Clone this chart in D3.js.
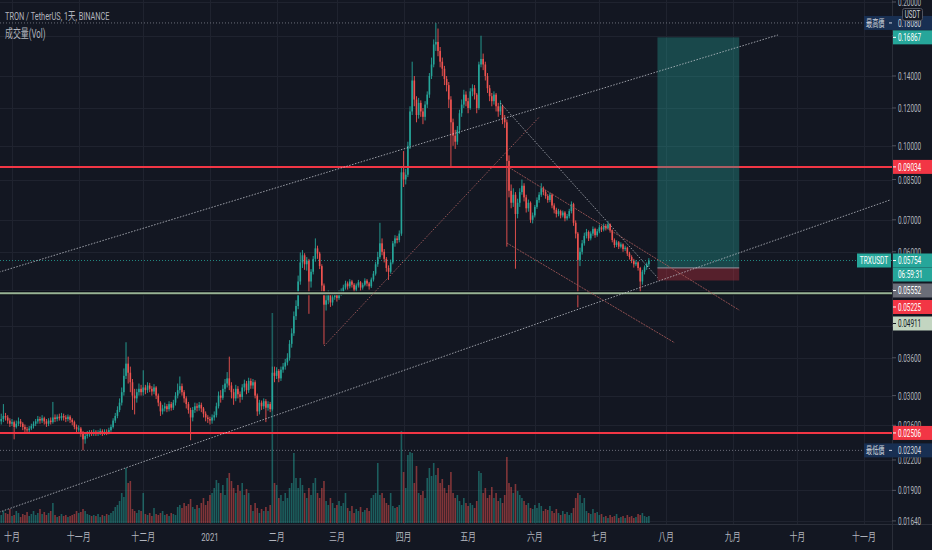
<!DOCTYPE html>
<html>
<head>
<meta charset="utf-8">
<script src="https://cdn.jsdelivr.net/npm/d3@7"></script>
<style>
  html, body { margin: 0; padding: 0; background: #131722; }
  svg { display: block; }
</style>
</head>
<body>
<div id="chart"></div>
<script>
// daily candles, first one is 2020-09-26 (Binance TRXUSDT, 1D)
const firstDay = "2020-09-26";
const firstOpen = 0.0265;

const closes = [
  .0268,.0272,.0270,.0266,.0262,.0264,.0258,.0262,.0265,.0262,
  .0258,.0255,.0254,.0256,.0259,.0262,.0265,.0268,.0266,.0269,
  .0265,.0262,.0266,.0264,.0270,.0268,.0271,.0269,.0272,.0270,
  .0268,.0271,.0267,.0264,.0258,.0255,.0256,.0250,.0243,.0247,
  .0249,.0251,.0250,.0252,.0250,.0251,.0253,.0250,.0252,.0251,
  .0254,.0258,.0266,.0272,.0280,.0290,.0305,.0330,.0350,.0335,
  .0320,.0300,.0296,.0305,.0310,.0305,.0312,.0308,.0315,.0310,
  .0306,.0312,.0300,.0290,.0278,.0282,.0285,.0281,.0288,.0283,
  .0290,.0300,.0308,.0314,.0305,.0296,.0288,.0280,.0270,.0280,
  .0285,.0283,.0287,.0282,.0275,.0270,.0268,.0266,.0270,.0273,
  .0285,.0300,.0297,.0310,.0318,.0326,.0315,.0305,.0296,.0310,
  .0302,.0298,.0312,.0318,.0308,.0322,.0315,.0320,.0300,.0278,
  .0290,.0285,.0292,.0283,.0288,.0281,.0335,.0330,.0338,.0326,
  .0340,.0345,.0352,.0360,.0385,.0405,.0440,.0462,.0520,.0570,
  .0590,.0565,.0575,.0520,.0545,.0580,.0610,.0595,.0560,.0510,
  .0465,.0475,.0490,.0470,.0482,.0488,.0480,.0492,.0495,.0505,
  .0515,.0508,.0520,.0512,.0500,.0510,.0518,.0505,.0512,.0522,
  .0515,.0508,.0525,.0540,.0565,.0585,.0625,.0600,.0580,.0555,
  .0545,.0570,.0625,.0640,.0635,.0655,.0880,.0850,.0870,.1000,
  .1180,.1370,.1250,.1160,.1230,.1180,.1150,.1220,.1280,.1400,
  .1480,.1630,.1650,.1580,.1500,.1450,.1380,.1340,.1250,.1120,
  .1050,.1020,.1080,.1170,.1220,.1280,.1240,.1200,.1300,.1320,
  .1280,.1200,.1480,.1520,.1480,.1400,.1320,.1270,.1240,.1280,
  .1210,.1180,.1210,.1140,.1120,.0930,.0805,.0760,.0790,.0720,
  .0760,.0800,.0825,.0780,.0740,.0760,.0700,.0715,.0745,.0770,
  .0790,.0815,.0800,.0785,.0770,.0790,.0750,.0735,.0720,.0730,
  .0715,.0725,.0705,.0712,.0730,.0755,.0690,.0655,.0577,.0600,
  .0625,.0648,.0660,.0640,.0655,.0670,.0650,.0662,.0675,.0668,
  .0680,.0672,.0685,.0665,.0635,.0620,.0628,.0615,.0622,.0608,
  .0612,.0595,.0585,.0575,.0565,.0570,.0555,.0520,.0545,.0557,
  .0565,.05754
];

const highs = [
  .0275,.0288,.0276,.0273,.0269,.0268,.0266,.0266,.0270,.0268,
  .0264,.0261,.0258,.0259,.0262,.0265,.0268,.0272,.0271,.0273,
  .0271,.0268,.0269,.0270,.0291,.0274,.0274,.0275,.0276,.0275,
  .0273,.0274,.0273,.0269,.0266,.0261,.0260,.0258,.0253,.0251,
  .0253,.0254,.0254,.0255,.0254,.0254,.0256,.0255,.0255,.0255,
  .0257,.0261,.0269,.0276,.0285,.0296,.0312,.0342,.0388,.0362,
  .0345,.0325,.0310,.0310,.0318,.0316,.0339,.0316,.0320,.0319,
  .0314,.0317,.0314,.0303,.0292,.0287,.0290,.0288,.0292,.0291,
  .0294,.0305,.0318,.0329,.0318,.0308,.0299,.0291,.0283,.0284,
  .0290,.0289,.0291,.0290,.0284,.0278,.0273,.0271,.0274,.0278,
  .0290,.0306,.0308,.0316,.0325,.0336,.0362,.0320,.0310,.0316,
  .0314,.0306,.0317,.0324,.0322,.0327,.0326,.0325,.0323,.0303,
  .0294,.0293,.0296,.0295,.0292,.0291,.0345,.0345,.0344,.0341,
  .0345,.0351,.0358,.0368,.0392,.0415,.0450,.0475,.0535,.0598,
  .0605,.0596,.0585,.0580,.0552,.0588,.0640,.0618,.0600,.0565,
  .0515,.0488,.0498,.0494,.0488,.0495,.0492,.0498,.0503,.0512,
  .0522,.0520,.0526,.0524,.0516,.0515,.0524,.0521,.0517,.0528,
  .0526,.0519,.0530,.0547,.0572,.0600,.0690,.0640,.0608,.0585,
  .0562,.0578,.0632,.0650,.0648,.0665,.0900,.0975,.0895,.1020,
  .1210,.1500,.1400,.1270,.1260,.1245,.1200,.1240,.1300,.1420,
  .1530,.1670,.1808,.1760,.1610,.1530,.1470,.1400,.1360,.1270,
  .1140,.1080,.1100,.1190,.1250,.1310,.1300,.1260,.1320,.1345,
  .1340,.1290,.1500,.1700,.1560,.1500,.1420,.1340,.1290,.1300,
  .1290,.1230,.1245,.1220,.1160,.1135,.0955,.0830,.0815,.0800,
  .0775,.0815,.0850,.0835,.0790,.0772,.0765,.0725,.0752,.0780,
  .0800,.0835,.0822,.0808,.0792,.0798,.0795,.0758,.0742,.0738,
  .0735,.0732,.0730,.0720,.0738,.0765,.0760,.0698,.0660,.0612,
  .0635,.0658,.0670,.0665,.0662,.0678,.0674,.0670,.0684,.0680,
  .0688,.0686,.0695,.0688,.0668,.0640,.0634,.0632,.0628,.0625,
  .0618,.0615,.0600,.0590,.0580,.0576,.0573,.0558,.0550,.0562,
  .0570,.0582
];

const lows = [
  .0261,.0264,.0266,.0262,.0258,.0259,.0243,.0256,.0259,.0258,
  .0254,.0251,.0250,.0251,.0254,.0256,.0259,.0262,.0262,.0263,
  .0261,.0258,.0259,.0261,.0262,.0264,.0265,.0266,.0266,.0266,
  .0264,.0265,.0263,.0260,.0255,.0251,.0252,.0246,.02304,.0238,
  .0244,.0246,.0247,.0247,.0247,.0247,.0248,.0247,.0248,.0248,
  .0249,.0252,.0256,.0263,.0269,.0277,.0286,.0300,.0325,.0318,
  .0305,.0280,.0274,.0290,.0300,.0300,.0300,.0302,.0304,.0305,
  .0300,.0302,.0295,.0285,.0272,.0274,.0278,.0277,.0278,.0279,
  .0280,.0286,.0296,.0303,.0300,.0290,.0282,.0275,.0242,.0265,
  .0276,.0278,.0279,.0277,.0270,.0265,.0263,.0261,.0262,.0266,
  .0270,.0282,.0290,.0294,.0305,.0312,.0308,.0296,.0287,.0292,
  .0296,.0290,.0294,.0306,.0302,.0304,.0310,.0310,.0296,.0272,
  .0274,.0280,.0281,.0264,.0279,.0277,.0279,.0320,.0325,.0320,
  .0322,.0335,.0340,.0347,.0355,.0378,.0400,.0432,.0455,.0512,
  .0555,.0550,.0548,.0445,.0505,.0538,.0572,.0580,.0552,.0495,
  .0384,.0452,.0466,.0460,.0463,.0476,.0472,.0476,.0485,.0489,
  .0500,.0500,.0503,.0505,.0494,.0495,.0505,.0498,.0500,.0508,
  .0508,.0500,.0504,.0520,.0535,.0558,.0580,.0590,.0570,.0545,
  .0524,.0540,.0565,.0615,.0625,.0628,.0648,.0820,.0830,.0860,
  .0985,.1160,.1210,.1120,.1140,.1150,.1110,.1130,.1200,.1260,
  .1380,.1460,.1580,.1540,.1460,.1400,.1340,.1300,.1200,.0905,
  .1000,.0985,.1005,.1060,.1150,.1200,.1210,.1170,.1190,.1270,
  .1250,.1170,.1190,.1460,.1440,.1370,.1290,.1240,.1210,.1220,
  .1180,.1150,.1160,.1110,.1090,.0615,.0780,.0740,.0745,.0553,
  .0705,.0745,.0790,.0765,.0725,.0728,.0690,.0688,.0708,.0738,
  .0760,.0782,.0788,.0775,.0760,.0762,.0740,.0722,.0708,.0712,
  .0705,.0708,.0695,.0698,.0705,.0722,.0680,.0640,.0459,.0560,
  .0592,.0618,.0640,.0632,.0634,.0648,.0642,.0645,.0656,.0660,
  .0662,.0665,.0668,.0658,.0628,.0612,.0614,.0608,.0610,.0600,
  .0602,.0588,.0578,.0568,.0556,.0560,.0548,.04911,.0512,.0538,
  .0550,.0558
];

// volume, relative units
const volumes = [
  8,12,10,9,14,7,8,12,10,6,
  9,8,11,7,9,12,8,10,14,9,
  11,8,10,12,20,8,6,7,9,7,
  8,6,7,8,9,12,10,11,14,12,
  9,8,7,8,7,9,6,8,7,9,
  8,10,12,16,18,22,30,26,55,40,
  42,14,12,10,13,12,30,9,8,10,
  7,15,9,8,10,12,8,9,7,10,
  9,8,16,18,15,20,17,19,24,16,
  14,18,15,20,25,18,22,28,30,35,
  43,40,30,38,28,45,50,42,35,30,
  38,32,40,28,34,30,18,12,20,15,
  10,14,12,16,12,18,210,40,38,25,
  28,22,30,25,35,40,70,45,35,45,
  38,30,25,35,28,40,45,30,25,35,
  42,22,18,25,20,15,18,22,17,20,
  30,15,12,17,10,14,12,16,11,13,
  15,12,25,28,30,60,28,30,25,20,
  18,30,17,15,16,18,92,51,35,68,
  71,70,40,57,30,28,32,25,45,55,
  47,60,48,55,40,44,35,30,38,51,
  30,25,28,22,18,25,20,17,20,18,
  15,22,52,50,30,35,25,28,36,25,
  30,22,25,20,28,66,40,36,30,39,
  32,28,25,22,18,20,15,14,18,15,
  20,17,12,14,13,17,12,10,14,10,
  8,12,9,11,8,10,15,25,30,28,
  20,25,12,10,9,14,10,11,8,9,
  6,7,5,8,6,7,9,5,6,7,
  5,8,6,7,5,6,9,8,10,7,
  6,7
];

const monthTicks = ["2020-10-01","2020-11-01","2020-12-01","2021-01-01","2021-02-01","2021-03-01",
  "2021-04-01","2021-05-01","2021-06-01","2021-07-01","2021-08-01","2021-09-01","2021-10-01","2021-11-01"];
const monthLabels = ["十月","十一月","十二月","2021","二月","三月","四月","五月","六月","七月","八月","九月","十月","十一月"];

const priceTicks = [0.2, 0.17, 0.14, 0.12, 0.10, 0.085, 0.07, 0.06, 0.05, 0.042, 0.036, 0.03, 0.026, 0.022, 0.019, 0.0164];

// drawings
const resistLevel = 0.09034;
const supportLevel = 0.02506;
const swingLow = 0.04911;
const highestPrice = 0.1808;
const lowestPrice = 0.02304;
const lastPrice = 0.05754;
const countdown = "06:59:31";
const position = { start: "2021-07-28", end: "2021-09-04", target: 0.16867, entry: 0.05552, stop: 0.05225 };

const upperChannel = [["2020-09-25", 0.0544], ["2021-09-22", 0.1706]];
const lowerChannel = [["2020-09-25", 0.0171], ["2021-11-13", 0.0770]];
const riseLine = [["2021-02-23", 0.0381], ["2021-06-03", 0.1148]];
const fallLine = [["2021-05-16", 0.1229], ["2021-07-28", 0.0530]];
const channelTop = [["2021-05-20", 0.0901], ["2021-09-04", 0.0453]];
const channelBottom = [["2021-05-19", 0.0626], ["2021-08-05", 0.0387]];

const w = 932;
const h = 550;
const plotW = 892;
const plotH = 524;

const UP = "#26a69a";
const DOWN = "#ef5350";
const TEXT = "#b2b5be";
const GRID = "#1f232f";
const FONT = "Roboto, 'Noto Sans CJK TC', sans-serif";

const parse = d3.utcParse("%Y-%m-%d");
const start = parse(firstDay);

const candles = closes.map(function (c, i) {
  return {
    date: d3.utcDay.offset(start, i),
    open: i === 0 ? firstOpen : closes[i - 1],
    high: highs[i],
    low: lows[i],
    close: c,
    vol: volumes[i]
  };
});

const xScale = d3.scaleUtc()
  .domain([parse("2020-10-01"), parse("2021-11-01")])
  .range([12, 864]);

const yScale = d3.scaleLog()
  .domain([0.016158, 0.20194])
  .range([plotH, 0]);

const volScale = d3.scaleLinear()
  .domain([0, d3.max(volumes)])
  .range([plotH - 1, 313]);

const svg = d3.select('#chart')
  .append('svg')
  .attr('width', w)
  .attr('height', h)
  .style('background', '#131722');

svg.append('defs').append('clipPath').attr('id', 'plot')
  .append('rect').attr('x', 0).attr('y', 0).attr('width', plotW).attr('height', plotH);

// squeezed text, the screenshot is horizontally compressed
function txt(g, x, y, s, o) {
  o = o || {};
  return g.append('text')
    .attr('transform', 'translate(' + x + ',' + y + ') scale(' + (o.sx || 0.6) + ',1)')
    .attr('font-family', FONT)
    .attr('font-size', o.size || 11)
    .attr('font-weight', o.weight || 'normal')
    .attr('fill', o.fill || TEXT)
    .attr('text-anchor', o.anchor || 'start')
    .text(s);
}

// grid
const grid = svg.append('g');
grid.selectAll('.hg')
  .data(priceTicks)
  .enter().append('line')
  .attr('x1', 0).attr('x2', plotW)
  .attr('y1', (d) => Math.round(yScale(d)) + 0.5)
  .attr('y2', (d) => Math.round(yScale(d)) + 0.5)
  .attr('stroke', GRID);
grid.selectAll('.vg')
  .data(monthTicks)
  .enter().append('line')
  .attr('x1', (d) => Math.round(xScale(parse(d))) + 0.5)
  .attr('x2', (d) => Math.round(xScale(parse(d))) + 0.5)
  .attr('y1', 0).attr('y2', plotH)
  .attr('stroke', GRID);

const plot = svg.append('g').attr('clip-path', 'url(#plot)');

// volume
plot.selectAll('.vol')
  .data(candles)
  .enter().append('rect')
  .attr('x', (d) => xScale(d.date) - 0.8)
  .attr('width', 1.6)
  .attr('y', (d) => volScale(d.vol))
  .attr('height', (d) => volScale(0) - volScale(d.vol))
  .attr('fill', (d) => d.close >= d.open ? UP : DOWN)
  .attr('opacity', 0.5);

// candles
const cg = plot.selectAll('.candle')
  .data(candles)
  .enter().append('g');
cg.append('line')
  .attr('x1', (d) => xScale(d.date))
  .attr('x2', (d) => xScale(d.date))
  .attr('y1', (d) => yScale(d.high))
  .attr('y2', (d) => yScale(d.low))
  .attr('stroke', (d) => d.close >= d.open ? UP : DOWN)
  .attr('stroke-width', 0.9);
cg.append('rect')
  .attr('x', (d) => xScale(d.date) - 0.8)
  .attr('width', 1.6)
  .attr('y', (d) => yScale(Math.max(d.open, d.close)))
  .attr('height', (d) => Math.max(1, Math.abs(yScale(d.open) - yScale(d.close))))
  .attr('fill', (d) => d.close >= d.open ? UP : DOWN);

// horizontal levels
function hline(price, color, width, dash, op) {
  plot.append('line')
    .attr('x1', 0).attr('x2', plotW)
    .attr('y1', yScale(price)).attr('y2', yScale(price))
    .attr('stroke', color)
    .attr('stroke-width', width)
    .attr('stroke-dasharray', dash)
    .attr('opacity', op || 1);
}
hline(highestPrice, '#6a6d78', 1, '1,2');
hline(lowestPrice, '#6a6d78', 1, '1,2');
hline(lastPrice, UP, 1, '1,2', 0.8);
hline(swingLow, '#0b0e14', 4, null);
hline(swingLow, '#98b395', 2, null);
hline(resistLevel, '#f23645', 2, null);
hline(supportLevel, '#f23645', 2, null);

// position tool
const px1 = xScale(parse(position.start));
const px2 = xScale(parse(position.end));
plot.append('rect')
  .attr('x', px1).attr('width', px2 - px1)
  .attr('y', yScale(position.target))
  .attr('height', yScale(position.entry) - yScale(position.target))
  .attr('fill', UP).attr('opacity', 0.34);
plot.append('rect')
  .attr('x', px1).attr('width', px2 - px1)
  .attr('y', yScale(position.entry))
  .attr('height', yScale(position.stop) - yScale(position.entry))
  .attr('fill', '#f23645').attr('opacity', 0.3);
plot.append('line')
  .attr('x1', px1).attr('x2', px2)
  .attr('y1', yScale(position.entry)).attr('y2', yScale(position.entry))
  .attr('stroke', '#9598a1').attr('stroke-width', 1);

// trend lines
function trend(pts, color, dash, op) {
  plot.append('line')
    .attr('x1', xScale(parse(pts[0][0]))).attr('y1', yScale(pts[0][1]))
    .attr('x2', xScale(parse(pts[1][0]))).attr('y2', yScale(pts[1][1]))
    .attr('stroke', color)
    .attr('stroke-width', 1)
    .attr('stroke-dasharray', dash)
    .attr('opacity', op);
}
trend(upperChannel, '#c9ccd4', '1.5,1.5', 0.75);
trend(lowerChannel, '#c9ccd4', '1.5,1.5', 0.75);
trend(fallLine, '#c9ccd4', '1.5,1.5', 0.7);
trend(riseLine, '#b06262', '1.5,1.5', 0.85);
trend(channelTop, '#a65a5a', '2,1', 0.85);
trend(channelBottom, '#a65a5a', '2,1', 0.85);

// legend
txt(svg, 5, 20, 'TRON / TetherUS, 1天, BINANCE', { size: 11.5, sx: 0.64 });
txt(svg, 5, 38, '成交量(Vol)', { size: 12, sx: 0.66 });

// axes frame
svg.append('line').attr('x1', plotW + 0.5).attr('x2', plotW + 0.5).attr('y1', 0).attr('y2', h).attr('stroke', '#2a2e39');
svg.append('line').attr('x1', 0).attr('x2', w).attr('y1', plotH + 0.5).attr('y2', plotH + 0.5).attr('stroke', '#2a2e39');

// bottom axis
const xAxis = svg.append('g');
monthTicks.forEach(function (d, i) {
  const lab = monthLabels[i];
  const cjk = /[\u4e00-\u9fff]/.test(lab);
  txt(xAxis, xScale(parse(d)), 541, lab, { anchor: 'middle', size: 11, sx: cjk ? 0.72 : 0.7 });
});

// tag boxes on the price scale, the last price pushes the ones below it down
const lastTop = yScale(lastPrice) - 7;
const tagTops = [
  yScale(position.target) - 7,
  yScale(resistLevel) - 7,
  yScale(supportLevel) - 7,
  lastTop,
  lastTop + 14
];
const stacked = [[position.entry, '#6a6d78', '#ffffff'], [position.stop, '#f23645', '#ffffff'], [swingLow, '#c3d5c1', '#131722']];
let nextTop = lastTop + 30;
stacked.forEach(function (s) {
  const top = Math.max(yScale(s[0]) - 7, nextTop);
  s.push(top);
  tagTops.push(top);
  nextTop = top + 16.5;
});

// right axis
const yAxis = svg.append('g');
priceTicks.forEach(function (p) {
  const yy = yScale(p);
  yAxis.append('line').attr('x1', plotW).attr('x2', plotW + 4).attr('y1', yy).attr('y2', yy).attr('stroke', '#50535e');
  // labels fully covered by a tag are not drawn
  const covered = tagTops.some((t) => yy > t + 2 && yy < t + 12);
  if (!covered) txt(yAxis, 898, yy + 4, p.toFixed(5), { size: 11, sx: 0.58 });
});

function tag(yTop, text, bg, fg) {
  yAxis.append('rect').attr('x', plotW + 1).attr('y', yTop).attr('width', w - plotW - 1).attr('height', 14).attr('fill', bg);
  yAxis.append('line').attr('x1', plotW + 1).attr('x2', plotW + 4).attr('y1', yTop + 7).attr('y2', yTop + 7).attr('stroke', fg);
  txt(yAxis, 898, yTop + 11, text, { size: 11, sx: 0.58, fill: fg });
}

// highest / lowest
function extremeTag(price, name) {
  const yy = yScale(price);
  yAxis.append('rect').attr('x', 864).attr('y', yy - 7).attr('width', w - 864).attr('height', 14).attr('fill', '#182f52');
  txt(yAxis, 866, yy + 4, name, { size: 10, sx: 0.62, fill: '#d1d4dc' });
  yAxis.append('line').attr('x1', 889).attr('x2', 892).attr('y1', yy).attr('y2', yy).attr('stroke', '#d1d4dc');
  txt(yAxis, 898, yy + 4, price.toFixed(5), { size: 11, sx: 0.58, fill: '#d1d4dc' });
}
extremeTag(highestPrice, '最高價');
extremeTag(lowestPrice, '最低價');

tag(tagTops[0], position.target.toFixed(5), UP, '#ffffff');
tag(tagTops[1], resistLevel.toFixed(5), '#f23645', '#ffffff');
tag(tagTops[2], supportLevel.toFixed(5), '#f23645', '#ffffff');

yAxis.append('rect').attr('x', 857).attr('y', lastTop).attr('width', 34).attr('height', 14).attr('fill', UP);
txt(yAxis, 874, lastTop + 11, 'TRXUSDT', { size: 11, sx: 0.6, fill: '#ffffff', anchor: 'middle' });
tag(lastTop, lastPrice.toFixed(5), UP, '#ffffff');
yAxis.append('rect').attr('x', plotW + 1).attr('y', lastTop + 14).attr('width', w - plotW - 1).attr('height', 14).attr('fill', UP);
txt(yAxis, 898, lastTop + 25, countdown, { size: 11, sx: 0.58, fill: '#ffffff' });

stacked.forEach(function (s) {
  tag(s[3], s[0].toFixed(5), s[1], s[2]);
});

// currency box
yAxis.append('rect').attr('x', 902.5).attr('y', 8.5).attr('width', 20).attr('height', 12).attr('rx', 2)
  .attr('fill', '#131722').attr('stroke', '#50535e');
txt(yAxis, 912.5, 18, 'USDT', { size: 10, sx: 0.62, fill: '#d1d4dc', anchor: 'middle' });
</script>
</body>
</html>
